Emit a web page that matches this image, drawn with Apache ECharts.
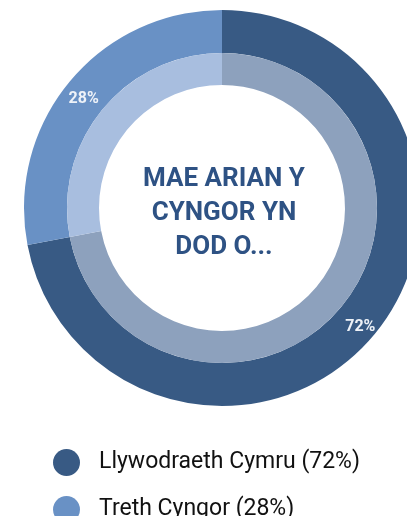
<!DOCTYPE html>
<html>
<head>
<meta charset="utf-8">
<script src="https://cdn.jsdelivr.net/npm/echarts@6/dist/echarts.min.js"></script>
<style>
html,body{margin:0;padding:0;background:#fff;}
#chart{width:407px;height:516px;}
</style>
</head>
<body>
<div id="chart"></div>
<script>
var categories = ['Llywodraeth Cymru', 'Treth Cyngor'];
var values = [72, 28];
var outerColors = ['#385a84', '#6991c5'];
var innerColors = ['#8da1bd', '#a8bedf'];
var centerText = 'MAE ARIAN Y\nCYNGOR YN\nDOD O...';

var chart = echarts.init(document.getElementById('chart'), null, {renderer: 'canvas'});
var outerData = categories.map(function (c, i) {
  return {name: c, value: values[i], itemStyle: {color: outerColors[i]}};
});
var innerData = categories.map(function (c, i) {
  return {name: 'inner ' + c, value: values[i], itemStyle: {color: innerColors[i]}};
});
chart.setOption({
  animation: false,
  legend: {
    data: categories,
    orient: 'vertical',
    left: 48,
    top: 444,
    height: 120,
    icon: 'circle',
    itemWidth: 27,
    itemHeight: 27,
    itemGap: 20,
    selectedMode: false,
    textStyle: {fontFamily: 'Roboto', fontSize: 23, color: '#111', padding: [0, 0, 0, 14]},
    formatter: function (name) {
      var i = categories.indexOf(name);
      return name + ' (' + values[i] + '%)';
    }
  },
  graphic: [{
    type: 'text',
    x: 224,
    y: 213,
    style: {
      text: centerText,
      textAlign: 'center',
      textVerticalAlign: 'middle',
      font: 'bold 26px Roboto',
      lineHeight: 34,
      fill: '#2e5284'
    }
  }],
  series: [{
    type: 'pie',
    center: [222, 208],
    radius: [155, 198],
    startAngle: 90,
    clockwise: true,
    silent: true,
    label: {
      show: true,
      position: 'inside',
      formatter: '{c}%',
      color: '#eef2f8',
      fontFamily: 'Roboto',
      fontWeight: 'bold',
      fontSize: 16,
      offset: [0, 5]
    },
    labelLine: {show: false},
    data: outerData
  }, {
    type: 'pie',
    center: [222, 208],
    radius: [123, 155],
    startAngle: 90,
    clockwise: true,
    silent: true,
    label: {show: false},
    labelLine: {show: false},
    data: innerData
  }]
});
</script>
</body>
</html>
